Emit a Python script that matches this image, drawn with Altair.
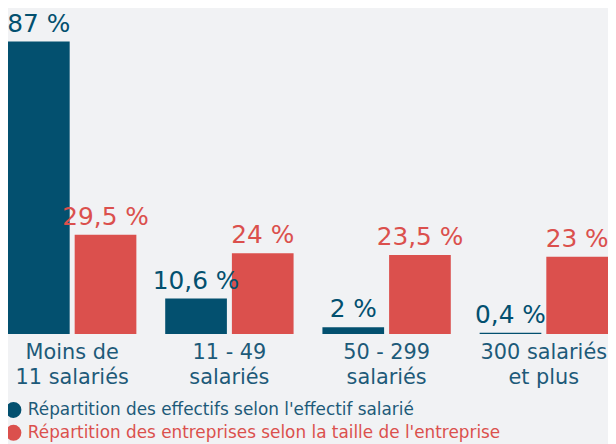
import altair as alt
import pandas as pd

categories = ["Moins de\n11 salariés", "11 - 49\nsalariés", "50 - 299\nsalariés", "300 salariés\net plus"]
series = [
    "Répartition des effectifs selon l'effectif salarié",
    "Répartition des entreprises selon la taille de l'entreprise",
]
effectifs = [87, 10.6, 2, 0.4]
entreprises = [29.5, 24, 23.5, 23]
effectifs_labels = ["87 %", "10,6 %", "2 %", "0,4 %"]
entreprises_labels = ["29,5 %", "24 %", "23,5 %", "23 %"]
colors = ["#03506f", "#db504d"]

rows = []
for c, v, l in zip(categories, effectifs, effectifs_labels):
    rows.append({"cat": c, "series": series[0], "value": v, "label": l})
for c, v, l in zip(categories, entreprises, entreprises_labels):
    rows.append({"cat": c, "series": series[1], "value": v, "label": l})
df = pd.DataFrame(rows)

FONT = "DejaVu Sans"

base = alt.Chart(df).encode(
    x=alt.X(
        "cat:N",
        sort=categories,
        scale=alt.Scale(paddingInner=0.1835, paddingOuter=0),
        axis=alt.Axis(
            title=None,
            labelAngle=0,
            labelExpr="split(datum.label, '\\n')",
            labelFontSize=21,
            labelLineHeight=25,
            labelColor="#1d5a79",
            labelFont=FONT,
            labelPadding=8,
            domain=False,
            ticks=False,
            grid=False,
        ),
    ),
    xOffset=alt.XOffset("series:N", sort=series, scale=alt.Scale(paddingInner=0.075)),
    y=alt.Y("value:Q", scale=alt.Scale(domain=[0, 96.4], nice=False, zero=True), axis=None),
    color=alt.Color(
        "series:N",
        scale=alt.Scale(domain=series, range=colors),
        legend=alt.Legend(
            title=None,
            orient="none",
            legendX=-3,
            legendY=395,
            direction="vertical",
            symbolType="circle",
            symbolSize=256,
            symbolStrokeWidth=0,
            symbolOpacity=1,
            labelFontSize=17,
            labelFont=FONT,
            labelLimit=0,
            labelOffset=6,
            rowPadding=5,
            labelColor=alt.ExprRef("datum.label == '" + series[0].replace("'", "\\'") + "' ? '#1d5a79' : '#db504d'"),
        ),
    ),
)

bars = base.mark_bar()
text = base.mark_text(dy=-10, fontSize=25, baseline="alphabetic", font=FONT).encode(text="label:N")

chart = (
    (bars + text)
    .properties(
        width=605,
        height=327,
        autosize=alt.AutoSizeParams(type="none"),
        padding={"left": 0, "top": 0, "right": 0, "bottom": 109},
    )
    .configure(background="#f1f2f4")
    .configure_view(stroke=None)
)

chart.save("out.html", embed_options={"renderer": "svg", "actions": False})
